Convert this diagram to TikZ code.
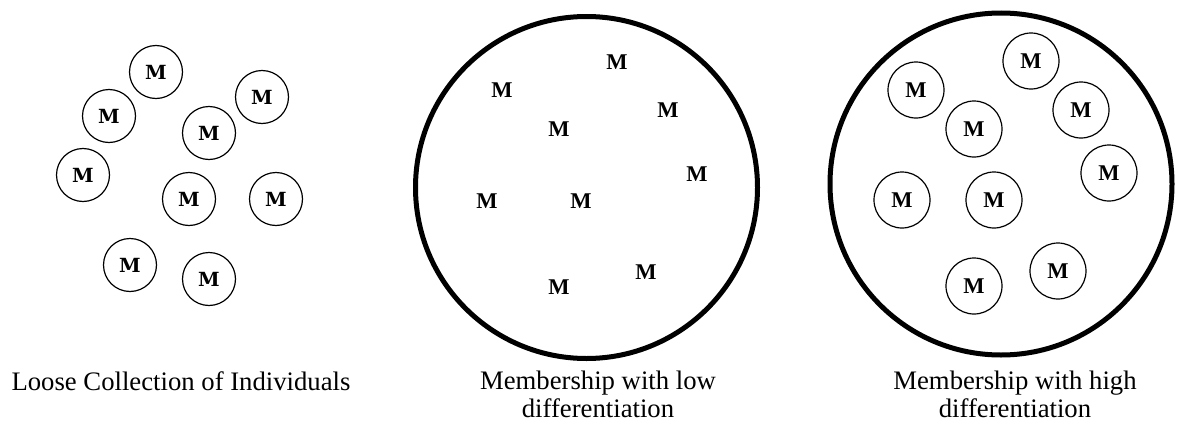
\documentclass[tikz,border=0pt]{standalone}
\usepackage{fontspec}
\setmainfont{Liberation Serif}
\newfontfamily\slabfont{DejaVu Serif}
\usepackage{tikz}
\usetikzlibrary{positioning}

\begin{document}
\begin{tikzpicture}[x=1pt, y=-1pt,
  member/.style={circle, draw, line width=1.2pt, inner sep=0pt, minimum size=53pt,
    font=\slabfont\fontsize{19.5}{19.5}\selectfont\bfseries},
  bare/.style={inner sep=0pt, font=\fontsize{22.5}{22.5}\selectfont\bfseries},
  ringed/.style={circle, draw, line width=1.2pt, inner sep=0pt, minimum size=56pt,
    font=\fontsize{22.5}{22.5}\selectfont\bfseries},
  group/.style={line width=5pt},
  caption/.style={align=center, font=\fontsize{26.7}{28}\selectfont}]
\useasboundingbox (0,0) rectangle (1181,423);

% Loose collection
\node[member] (l1) at (156, 72) {M};
\node[member] (l2) at (109,116) {M};
\node[member] (l3) at ( 83,175) {M};
\node[member] (l4) at (209,133) {M};
\node[member] (l5) at (262, 97) {M};
\node[member] (l6) at (189,199) {M};
\node[member] (l7) at (276,199) {M};
\node[member] (l8) at (130,265) {M};
\node[member] (l9) at (209,279) {M};

% Low differentiation
\draw[group] (586.5,187.5) circle (171);
\node[bare] (m1) at (617, 62) {M};
\node[bare] (m2) at (502, 90) {M};
\node[bare] (m3) at (668,110) {M};
\node[bare] (m4) at (559,129) {M};
\node[bare] (m5) at (697,174) {M};
\node[bare] (m6) at (487,201) {M};
\node[bare] (m7) at (581,201) {M};
\node[bare] (m8) at (646,272) {M};
\node[bare] (m9) at (559,287) {M};

% High differentiation
\draw[group] (1001,184) circle (171);
\node[ringed] (h1) at (1031, 61) {M};
\node[ringed] (h2) at ( 916, 90) {M};
\node[ringed] (h3) at (1081,110) {M};
\node[ringed] (h4) at ( 974,129) {M};
\node[ringed] (h5) at (1109,173) {M};
\node[ringed] (h6) at ( 902,200) {M};
\node[ringed] (h7) at ( 994,200) {M};
\node[ringed] (h8) at (1058,271) {M};
\node[ringed] (h9) at ( 974,286) {M};

% Captions
\node[caption, anchor=base] (cap1) at (181,390) {Loose Collection of Individuals};
\node[caption, anchor=base] (cap2) at (598,389) {Membership with low};
\node[caption, anchor=base] (cap2b) at (598,417) {differentiation};
\node[caption, anchor=base] (cap3) at (1015,389) {Membership with high};
\node[caption, anchor=base] (cap3b) at (1015,417) {differentiation};

\end{tikzpicture}
\end{document}
